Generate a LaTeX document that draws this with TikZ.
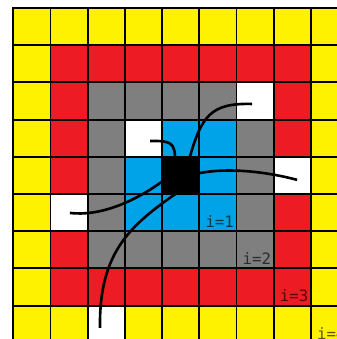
\documentclass[tikz,border=0pt]{standalone}
\usepackage{tikz}
\usepackage{fontspec}
\setmonofont{DejaVu Sans Mono}
\usetikzlibrary{positioning}
\definecolor{ring0}{RGB}{0,0,0}
\definecolor{ring1}{RGB}{0,162,232}
\definecolor{ring2}{RGB}{127,127,127}
\definecolor{ring3}{RGB}{237,28,36}
\definecolor{ring4}{RGB}{255,242,0}
\tikzstyle{cell} = [draw=black, line width=1.5pt, minimum size=1cm, inner sep=0pt]
\tikzstyle{wire} = [line width=2pt, black]
\tikzstyle{ringlabel} = [anchor=south east, inner xsep=2.6pt, inner ysep=3.2pt, font=\fontsize{12}{14}\selectfont\ttfamily, text=black, text opacity=0.65]

\begin{document}
\begin{tikzpicture}
\useasboundingbox (-0.358,0.102) rectangle (8.675,9.215);

% Cells, coloured by ring
\foreach \x in {0,...,8} {
  \foreach \y in {0,...,8} {
    \pgfmathtruncatemacro\ring{max(abs(\x-4),abs(\y-4))}
    \node (c-\x-\y) [cell, fill=ring\ring] at (\x+0.5,8.5-\y) {};
  }
}

% Empty cells
\foreach \x/\y in {3/3, 6/2, 7/4, 1/5, 2/8}
  \node (w-\x-\y) [cell, fill=white] at (c-\x-\y) {};

% Curves from the centre
\draw [wire] ([shift={(-0.15,0.4)}]c-4-4.center) .. controls (4.35,5.4) and (4.22,5.43) .. ([shift={(0.175,-0.075)}]w-3-3.center);
\draw [wire] ([shift={(0.22,0.4)}]c-4-4.center) .. controls (5.05,6.1) and (5.3,6.45) .. ([shift={(-0.08,-0.08)}]w-6-2.center);
\draw [wire] ([shift={(0.4,0.04)}]c-4-4.center) .. controls (5.6,4.7) and (6.6,4.65) .. ([shift={(0.13,-0.12)}]w-7-4.center);
\draw [wire] ([shift={(-0.45,-0.13)}]c-4-4.center) .. controls (3.2,3.75) and (2.3,3.4) .. ([shift={(0.02,-0.01)}]w-1-5.center);
\draw [wire] ([shift={(0,-0.4)}]c-4-4.center) .. controls (3.2,3.2) and (2.3,2.5) .. ([shift={(-0.17,-0.1)}]w-2-8.center);

% Labels
\node (i1) [ringlabel] at (c-5-5.south east) {i=1};
\node (i2) [ringlabel] at (c-6-6.south east) {i=2};
\node (i3) [ringlabel] at (c-7-7.south east) {i=3};
\node (i4) [ringlabel] at (c-8-8.south east) {i=4};

\end{tikzpicture}
\end{document}
